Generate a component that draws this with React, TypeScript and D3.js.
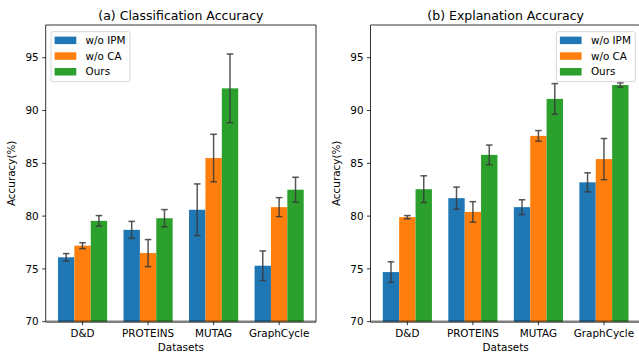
import React from 'react';
import * as d3 from 'd3';

const datasets = ['D&D', 'PROTEINS', 'MUTAG', 'GraphCycle'];
const seriesNames = ['w/o IPM', 'w/o CA', 'Ours'];
const colors = ['#1f77b4', '#ff7f0e', '#2ca02c'];
const yTicks = [70, 75, 80, 85, 90, 95];

// (a) classification accuracy
const clsIPM = [76.1, 78.7, 80.6, 75.3];
const clsCA = [77.2, 76.5, 85.5, 80.85];
const clsOurs = [79.55, 79.8, 92.1, 82.5];
const clsIPMErr = [0.35, 0.8, 2.45, 1.4];
const clsCAErr = [0.28, 1.28, 2.25, 0.9];
const clsOursErr = [0.5, 0.82, 3.25, 1.18];

// (b) explanation accuracy
const expIPM = [74.7, 81.7, 80.85, 83.2];
const expCA = [79.9, 80.4, 87.6, 85.4];
const expOurs = [82.55, 85.8, 91.1, 92.42];
const expIPMErr = [0.97, 1.05, 0.7, 0.9];
const expCAErr = [0.15, 0.97, 0.5, 1.95];
const expOursErr = [1.27, 0.93, 1.45, 0.2];

const FONT = 'DejaVu Sans, sans-serif';
const W = 639;
const H = 356;
const top = 25;
const bottom = 321.7;
const panelW = 270.3;
const barW = 0.25;

type PanelProps = {
  left: number;
  title: string;
  means: number[][];
  errs: number[][];
  legendRight: boolean;
};

const Panel = ({ left, title, means, errs, legendRight }: PanelProps) => {
  const right = left + panelW;
  const x = d3.scaleLinear().domain([-0.5625, 3.5625]).range([left, right]);
  const y = d3.scaleLinear().domain([70, 98.1]).range([bottom, top]);
  const unit = x(1) - x(0);

  const legW = 79;
  const legX = legendRight ? right - 5.5 - legW : left + 5.3;
  const legY = 31.7;

  return (
    <g>
      {means.map((vals, s) =>
        vals.map((v, i) => {
          const xc = x(i + (s - 1) * barW);
          return (
            <rect
              key={`b${s}-${i}`}
              x={xc - (barW * unit) / 2}
              y={y(v)}
              width={barW * unit}
              height={y(70) - y(v)}
              fill={colors[s]}
            />
          );
        })
      )}
      {means.map((vals, s) =>
        vals.map((v, i) => {
          const xc = x(i + (s - 1) * barW);
          const e = errs[s][i];
          return (
            <g key={`e${s}-${i}`} stroke="#3a3a3a" strokeOpacity={0.85} strokeWidth={1.5}>
              <line x1={xc} x2={xc} y1={y(v + e)} y2={y(v - e)} />
              <line x1={xc - 3.3} x2={xc + 3.3} y1={y(v + e)} y2={y(v + e)} />
              <line x1={xc - 3.3} x2={xc + 3.3} y1={y(v - e)} y2={y(v - e)} />
            </g>
          );
        })
      )}
      {/* spines */}
      <line x1={left} x2={left} y1={top} y2={bottom} stroke="#000" strokeWidth={0.8} />
      <line x1={left} x2={right} y1={top} y2={top} stroke="#000" strokeWidth={0.8} />
      <line x1={right} x2={right} y1={top} y2={bottom} stroke="#000" strokeWidth={0.8} />
      <line x1={left} x2={right} y1={bottom} y2={bottom} stroke="#000" strokeOpacity={0.5} strokeWidth={2.6} />

      {yTicks.map((t) => (
        <g key={`yt${t}`}>
          <line x1={left - 3.5} x2={left} y1={y(t)} y2={y(t)} stroke="#000" strokeWidth={0.8} />
          <text x={left - 7} y={y(t)} dy="0.35em" textAnchor="end" fontSize={10.4} fontFamily={FONT} fill="#000">
            {t}
          </text>
        </g>
      ))}
      {datasets.map((d, i) => (
        <g key={`xt${d}`}>
          <line x1={x(i)} x2={x(i)} y1={bottom} y2={bottom + 3.5} stroke="#000" strokeWidth={0.8} />
          <text x={x(i)} y={337.3} textAnchor="middle" fontSize={10.4} fontFamily={FONT} fill="#000">
            {d}
          </text>
        </g>
      ))}

      <text x={(left + right) / 2} y={351.3} textAnchor="middle" fontSize={10.4} fontFamily={FONT}>
        Datasets
      </text>
      <text
        transform={`translate(${left - 30.3},${(top + bottom) / 2}) rotate(-90)`}
        textAnchor="middle"
        fontSize={10.4}
        fontFamily={FONT}
      >
        Accuracy(%)
      </text>
      <text x={(left + right) / 2} y={19.5} textAnchor="middle" fontSize={12.5} fontFamily={FONT}>
        {title}
      </text>

      <g>
        <rect
          x={legX}
          y={legY}
          width={legW}
          height={50}
          rx={2}
          fill="#fff"
          fillOpacity={0.8}
          stroke="#cccccc"
          strokeWidth={0.8}
        />
        {seriesNames.map((n, s) => (
          <g key={`lg${n}`}>
            <rect x={legX + 3.6} y={legY + 8.6 + s * 15.7 - 3.7} width={21.7} height={7.5} fill={colors[s]} />
            <text x={legX + 34.6} y={legY + 8.6 + s * 15.7} dy="0.35em" fontSize={10.4} fontFamily={FONT}>
              {n}
            </text>
          </g>
        ))}
      </g>
    </g>
  );
};

export default function App() {
  return (
    <div style={{ position: 'absolute', left: 0, top: 0 }}>
      <svg width={W} height={H} style={{ display: 'block', background: '#fff' }}>
        <Panel
          left={45.7}
          title="(a) Classification Accuracy"
          means={[clsIPM, clsCA, clsOurs]}
          errs={[clsIPMErr, clsCAErr, clsOursErr]}
          legendRight={false}
        />
        <Panel
          left={370.5}
          title="(b) Explanation Accuracy"
          means={[expIPM, expCA, expOurs]}
          errs={[expIPMErr, expCAErr, expOursErr]}
          legendRight={true}
        />
      </svg>
    </div>
  );
}
